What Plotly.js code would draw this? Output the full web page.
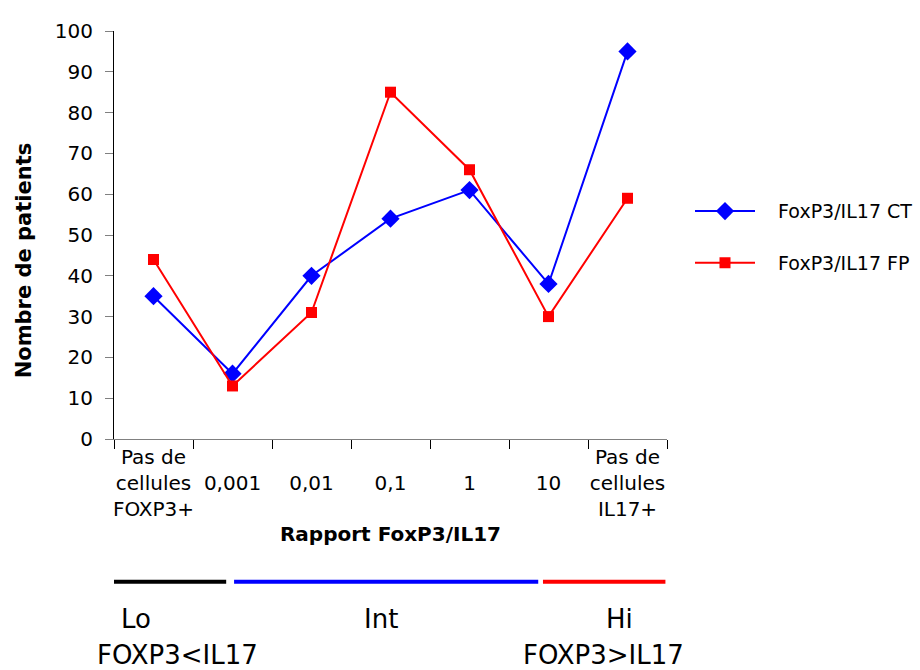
<!DOCTYPE html>
<html>
<head>
<meta charset="utf-8">
<script src="https://cdn.plot.ly/plotly-3.0.1.min.js"></script>
<style>html,body{margin:0;padding:0;background:#fff;}#chart{width:920px;height:670px;}</style>
</head>
<body>
<div id="chart"></div>
<script>
// Data
const categories = ["c0","c1","c2","c3","c4","c5","c6"];
const tickLabels = ["Pas de<br>cellules<br>FOXP3+", "&nbsp;<br>0,001", "&nbsp;<br>0,01", "&nbsp;<br>0,1", "&nbsp;<br>1", "&nbsp;<br>10", "Pas de<br>cellules<br>IL17+"];
const seriesNames = ["FoxP3/IL17 CT", "FoxP3/IL17 FP"];
const valuesCT = [35, 16, 40, 54, 61, 38, 95];
const valuesFP = [44, 13, 31, 85, 66, 30, 59];
const groupNames = ["Lo", "Int", "Hi"];
const groupSubtitles = ["FOXP3<IL17", "", "FOXP3>IL17"];
const groupColors = ["#000000", "#0000ff", "#ff0000"];

const font = "Verdana, 'DejaVu Sans', sans-serif";
const pad = "&nbsp;&nbsp;&nbsp;";

const traces = [
  {x: categories, y: valuesCT, name: pad + seriesNames[0], type: "scatter", mode: "lines+markers",
   line: {color: "#0000ff", width: 2}, marker: {symbol: "diamond", size: 14, color: "#0000ff"},
   legendgroup: "a"},
  {x: categories, y: valuesFP, name: pad + seriesNames[1], type: "scatter", mode: "lines+markers",
   line: {color: "#ff0000", width: 2}, marker: {symbol: "square", size: 11, color: "#ff0000"},
   legendgroup: "b"}
];

// Group bars beneath the axis (in category units, paper y)
const groupSpans = [[-0.63, 0.92], [1.02, 4.87], [4.93, 6.48]];
const shapes = groupSpans.map((s, i) => ({
  type: "line", xref: "x", yref: "paper", x0: s[0], x1: s[1], y0: -0.35, y1: -0.35,
  line: {color: groupColors[i], width: 4}
}));
const nameX = [-0.22, 2.88, 5.9];
const subX = [0.3, 2.88, 5.69];
const annotations = [];
groupNames.forEach((g, i) => {
  annotations.push({xref: "x", yref: "paper", x: nameX[i], y: -0.44, text: g, showarrow: false,
    font: {family: font, size: 26, color: "#000"}, xanchor: "center", yanchor: "middle"});
  if (groupSubtitles[i]) annotations.push({xref: "x", yref: "paper", x: subX[i], y: -0.53,
    text: groupSubtitles[i].replace("<", "&lt;").replace(">", "&gt;"), showarrow: false,
    font: {family: font, size: 26, color: "#000"}, xanchor: "center", yanchor: "middle"});
});

const layout = {
  width: 920, height: 670,
  margin: {l: 114, r: 253, t: 31, b: 231, pad: 0, autoexpand: false},
  paper_bgcolor: "#fff", plot_bgcolor: "#fff",
  font: {family: font, size: 18, color: "#000"},
  showlegend: true,
  legend: {xref: "container", yref: "container", x: 0.75, y: 0.646, xanchor: "left", yanchor: "middle",
           traceorder: "grouped", tracegroupgap: 24, font: {family: font, size: 19}, itemwidth: 60,
           bgcolor: "rgba(0,0,0,0)"},
  xaxis: {
    type: "category", tickmode: "array", tickvals: categories, ticktext: tickLabels,
    range: [-0.5, 6.5], tickson: "boundaries", ticks: "outside", ticklen: 9, tickcolor: "#000",
    showline: true, linecolor: "#808080", linewidth: 1, showgrid: false, zeroline: false,
    tickangle: 0, automargin: false,
    tickfont: {family: font, size: 20}, fixedrange: true,
    title: {text: "<b>Rapport FoxP3/IL17</b>", font: {family: font, size: 20}, standoff: 6}
  },
  yaxis: {
    range: [0, 100], tickmode: "linear", tick0: 0, dtick: 10, ticks: "outside", ticklen: 8,
    tickcolor: "#808080", showline: true, linecolor: "#000", linewidth: 1, showgrid: false,
    zeroline: false, tickfont: {family: font, size: 20}, fixedrange: true, ticklabelstandoff: 8,
    title: {text: "<b>Nombre de patients&nbsp;&nbsp;&nbsp;&nbsp;&nbsp;&nbsp;&nbsp;</b>", font: {family: font, size: 21}, standoff: 17}
  },
  shapes: shapes,
  annotations: annotations
};

Plotly.newPlot("chart", traces, layout, {displayModeBar: false, staticPlot: true});
</script>
</body>
</html>
